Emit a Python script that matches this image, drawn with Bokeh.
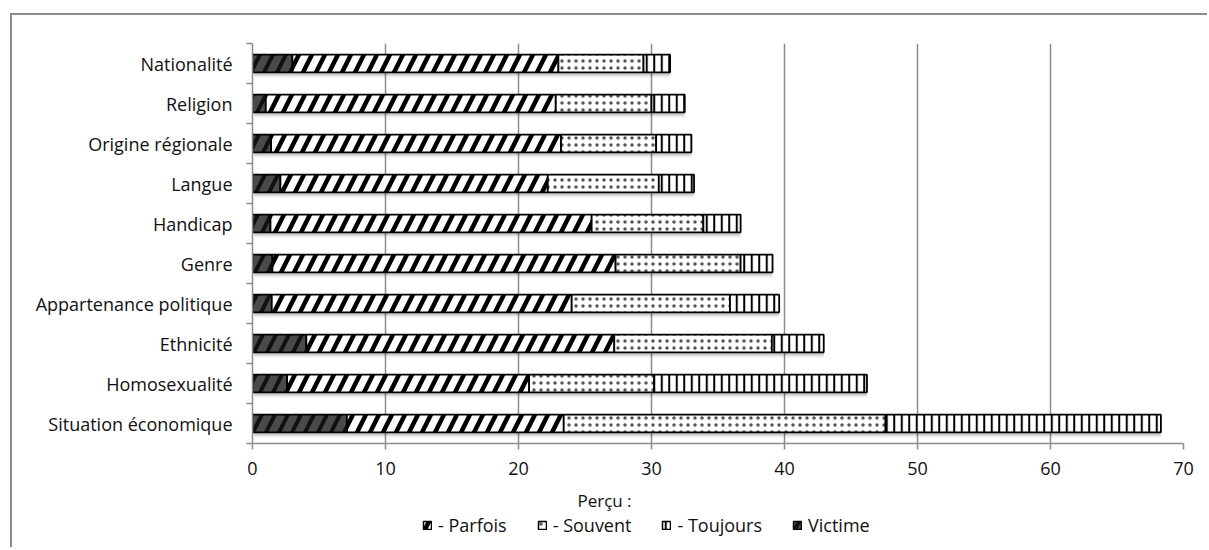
from bokeh.plotting import figure
from bokeh.layouts import column
from bokeh.models import FixedTicker, Legend, LegendItem, Label, Range1d, ColumnDataSource
from bokeh.transform import stack, dodge
from bokeh.embed import file_html
from bokeh.resources import INLINE

# ---- data (top to bottom as shown) ----
categories = ["Nationalité", "Religion", "Origine régionale", "Langue", "Handicap",
              "Genre", "Appartenance politique", "Ethnicité", "Homosexualité",
              "Situation économique"]
victime  = [3.0, 1.0, 1.4, 2.1, 1.35, 1.5, 1.45, 4.05, 2.6, 7.1]
parfois  = [20.0, 21.8, 21.8, 20.1, 24.15, 25.8, 22.55, 23.15, 18.2, 16.3]
souvent  = [6.4, 7.2, 7.15, 8.35, 8.4, 9.4, 11.9, 11.85, 9.4, 24.2]
toujours = [2.0, 2.5, 2.65, 2.65, 2.8, 2.4, 3.7, 3.9, 16.0, 20.7]
x_ticks = [0, 10, 20, 30, 40, 50, 60, 70]
legend_labels = {"parfois": "- Parfois", "souvent": "- Souvent",
                 "toujours": "- Toujours", "victime": "Victime"}
axis_title = "Perçu :"

n = len(categories)
ypos = [n - 1 - i for i in range(n)]
src = ColumnDataSource(dict(y=ypos, cat=categories, victime=victime, parfois=parfois,
                            souvent=souvent, toujours=toujours))

FONT = "Open Sans"
FS = "17px"
FS_AX = "18px"
TXT = "#111111"
GRAY = "#8c8c8c"
W = 1195

p = figure(width=W, height=474, output_backend="svg", toolbar_location=None,
           x_range=Range1d(0, 70), y_range=Range1d(-0.5, n - 0.5),
           min_border_left=240, min_border_right=24, min_border_top=28, min_border_bottom=46)
p.outline_line_color = None
p.background_fill_color = "white"
p.border_fill_color = "white"

# grid
p.xgrid.ticker = FixedTicker(ticks=x_ticks)
p.xgrid.grid_line_color = GRAY
p.xgrid.grid_line_width = 1.5
p.ygrid.grid_line_color = None

# x axis
p.xaxis.ticker = FixedTicker(ticks=x_ticks)
p.xaxis.axis_line_color = GRAY
p.xaxis.axis_line_width = 1.5
p.xaxis.major_tick_line_color = GRAY
p.xaxis.major_tick_line_width = 1.5
p.xaxis.major_tick_out = 6
p.xaxis.major_tick_in = 0
p.xaxis.minor_tick_line_color = None
p.xaxis.major_label_text_font = FONT
p.xaxis.major_label_text_font_size = FS_AX
p.xaxis.major_label_text_color = TXT
p.xaxis.major_label_standoff = 12

# y axis: labels at centres, ticks at category boundaries
p.yaxis.ticker = FixedTicker(ticks=ypos, minor_ticks=[v - 0.5 for v in range(n + 1)])
p.yaxis.major_label_overrides = {y: c for y, c in zip(ypos, categories)}
p.yaxis.axis_line_color = GRAY
p.yaxis.axis_line_width = 1.5
p.yaxis.major_tick_line_color = None
p.yaxis.major_tick_out = 0
p.yaxis.major_tick_in = 0
p.yaxis.minor_tick_line_color = GRAY
p.yaxis.minor_tick_line_width = 1.5
p.yaxis.minor_tick_out = 6
p.yaxis.minor_tick_in = 0
p.yaxis.major_label_text_font = FONT
p.yaxis.major_label_text_font_size = FS_AX
p.yaxis.major_label_text_color = TXT
p.yaxis.major_label_standoff = 14

H = 0.44
order = ["victime", "parfois", "souvent", "toujours"]
styles = {
    "victime":  dict(fill_color="#4a4a4a", hatch_pattern="right_diagonal_line",
                     hatch_color="#111111", hatch_scale=26, hatch_weight=4),
    "parfois":  dict(fill_color="white", hatch_pattern="right_diagonal_line",
                     hatch_color="black", hatch_scale=26, hatch_weight=4.5),
    "souvent":  dict(fill_color="white", hatch_pattern="dot",
                     hatch_color="#555555", hatch_scale=7, hatch_weight=2),
    "toujours": dict(fill_color="white", hatch_pattern="vertical_line",
                     hatch_color="black", hatch_scale=7.5, hatch_weight=2),
}

# soft shadow below/right of each full bar
for off, a in [(-0.13, 0.06), (-0.10, 0.07), (-0.07, 0.08)]:
    p.hbar(y=dodge("y", off, range=p.y_range), left=0.1, right=stack(*order), height=H,
           source=src, fill_color="#000000", fill_alpha=a, line_color=None)

for i, key in enumerate(order):
    p.hbar(y="y", left=stack(*order[:i]), right=stack(*order[:i + 1]), height=H,
           source=src, line_color="black", line_width=1.8, **styles[key])

# bottom strip: axis title + legend (its renderers are hidden, only swatches show)
LH = 58
lf = figure(width=W, height=LH, output_backend="svg", toolbar_location=None,
            x_axis_location=None, y_axis_location=None, min_border=0,
            x_range=Range1d(0, 70), y_range=Range1d(-0.5, n - 0.5))
lf.outline_line_color = None
lf.grid.grid_line_color = None
lf.background_fill_color = "white"
lf.border_fill_color = "white"
rmap = {}
for i, key in enumerate(order):
    rmap[key] = lf.hbar(y="y", left=stack(*order[:i]), right=stack(*order[:i + 1]), height=H,
                        source=src, line_color="black", line_width=1.5, visible=False,
                        **styles[key])

lf.add_layout(Label(x=352, y=LH - 11, x_units="screen", y_units="screen", text=axis_title,
                    text_font=FONT, text_font_size=FS, text_color=TXT,
                    text_align="center", text_baseline="middle"))

legend = Legend(items=[LegendItem(label=legend_labels[k], renderers=[rmap[k]])
                       for k in ["parfois", "souvent", "toujours", "victime"]],
                orientation="horizontal", location=(170, LH - 28 - 20),
                glyph_width=10, glyph_height=10, label_standoff=6, spacing=30,
                padding=0, margin=0, border_line_color=None, background_fill_alpha=0,
                inactive_fill_alpha=0,
                label_text_font=FONT, label_text_font_size=FS_AX,
                label_text_color=TXT, label_height=20)
lf.add_layout(legend, "center")

layout = column(p, lf, spacing=0,
                styles={"border-left": f"2px solid {GRAY}", "border-top": f"2px solid {GRAY}",
                        "margin-left": "10px", "margin-top": "13px"})

open("out.html", "w").write(file_html(layout, INLINE))
